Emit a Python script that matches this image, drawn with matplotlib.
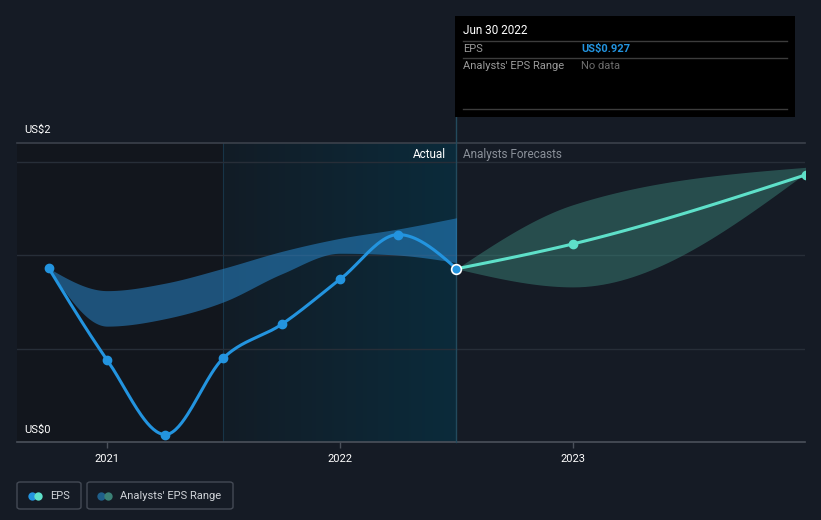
import numpy as np
import matplotlib
matplotlib.use('Agg')
import matplotlib.pyplot as plt
from matplotlib.lines import Line2D
from matplotlib.patches import Rectangle, FancyBboxPatch
from matplotlib.colors import LinearSegmentedColormap

plt.rcParams['font.family'] = ['Roboto', 'DejaVu Sans']

W, H = 821, 520

# actual EPS (quarterly, trailing)
quarters = [2020.75, 2021.0, 2021.25, 2021.5, 2021.75, 2022.0, 2022.25, 2022.5]
eps = [0.93, 0.44, 0.04, 0.45, 0.63, 0.87, 1.11, 0.927]
# past analysts' range
range_hi = [0.93, 0.81, 0.85, 0.93, 1.02, 1.09, 1.14, 1.20]
range_lo = [0.93, 0.62, 0.66, 0.75, 0.90, 1.01, 1.00, 0.96]

# forecasts
fc_dates = [2022.5, 2023.0, 2024.0]
fc_eps = [0.927, 1.06, 1.43]
fc_hi = [0.927, 1.27, 1.47]
fc_lo = [0.927, 0.83, 1.44]

year_ticks = [2021, 2022, 2023]
year_labels = ['2021', '2022', '2023']

BG = '#151b25'
BLUE = '#2394df'
TEAL = '#5ee0c9'


def monotone(x, y, n=40):
    # monotone cubic (like d3 curveMonotoneX) just for drawing smooth lines
    x = np.asarray(x, float)
    y = np.asarray(y, float)
    h = np.diff(x)
    s = np.diff(y) / h
    m = np.zeros_like(y)
    for i in range(1, len(y) - 1):
        if s[i - 1] * s[i] <= 0:
            m[i] = 0
        else:
            p = (s[i - 1] * h[i] + s[i] * h[i - 1]) / (h[i - 1] + h[i])
            m[i] = np.sign(s[i - 1]) * min(abs(s[i - 1]), abs(s[i]), 0.5 * abs(p)) * 2
    m[0] = (3 * s[0] - m[1]) / 2 if len(y) > 2 else s[0]
    m[-1] = (3 * s[-1] - m[-2]) / 2 if len(y) > 2 else s[-1]
    xs, ys = [], []
    for i in range(len(h)):
        t = np.linspace(0, 1, n)
        h00 = 2 * t**3 - 3 * t**2 + 1
        h10 = t**3 - 2 * t**2 + t
        h01 = -2 * t**3 + 3 * t**2
        h11 = t**3 - t**2
        xs.append(x[i] + t * h[i])
        ys.append(h00 * y[i] + h10 * h[i] * m[i] + h01 * y[i + 1] + h11 * h[i] * m[i + 1])
    return np.concatenate(xs), np.concatenate(ys)


def px(x, y):
    return x / W, 1 - y / H


fig = plt.figure(figsize=(W / 100, H / 100), dpi=100, facecolor=BG)

x0 = 2021 - 90 / 233
x1 = 2021 + 698 / 233
ax = fig.add_axes([17 / W, (H - 442) / H, 788 / W, 299 / H])
ax.set_facecolor(BG)
for sp in ax.spines.values():
    sp.set_visible(False)

ax.axvspan(x0, 2021.5, color='#12161d', zorder=0)
grad = LinearSegmentedColormap.from_list('hl', ['#121c26', '#0b2b3b'])
ax.imshow(np.linspace(0, 1, 256).reshape(1, -1), extent=[2021.5, 2022.5, 0, 1.6],
          cmap=grad, aspect='auto', zorder=0)
ax.axvline(2021.5, color='#173447', lw=0.8, zorder=1)
ax.set_xlim(x0, x1)
ax.set_ylim(0, 1.6)

for g in [0.5, 1.0, 1.5]:
    ax.axhline(g, color='#272e38', lw=1, zorder=1)
ax.axhline(1.6, color='#3b414b', lw=1.2, zorder=1, clip_on=False)
ax.axhline(0, color='#4b515b', lw=1.2, zorder=1, clip_on=False)

# vertical marker line at last actual
ax.plot([2022.5, 2022.5], [0, 1.6 + 26 / 187], color='#234a5d', lw=1, clip_on=False, zorder=1)

# bands
bx, bh = monotone(quarters, range_hi)
_, bl = monotone(quarters, range_lo)
ax.fill_between(bx, bl, bh, color='#2a8fd8', alpha=0.5, lw=0, zorder=2)

fx, fh = monotone(fc_dates, fc_hi)
_, fl = monotone(fc_dates, fc_lo)
ax.fill_between(fx, fl, fh, color='#3d8c80', alpha=0.45, lw=0, zorder=2)

# lines
lx, ly = monotone(quarters, eps)
ax.plot(lx, ly, color=BLUE, lw=2.2, zorder=3, solid_capstyle='round')
ax.plot(quarters[:-1], eps[:-1], 'o', color=BLUE, ms=6, zorder=4, clip_on=False)

gx, gy = monotone(fc_dates, fc_eps)
ax.plot(gx, gy, color=TEAL, lw=2.2, zorder=3)
ax.plot(fc_dates[1:], fc_eps[1:], 'o', color=TEAL, ms=6, zorder=4)
ax.plot([quarters[-1]], [eps[-1]], 'o', color=BLUE, mec='white', mew=1.2, ms=7, zorder=5)

ax.set_yticks([])
ax.set_xticks(year_ticks)
ax.set_xticklabels(year_labels)
ax.tick_params(axis='x', colors='#4b515b', length=4, width=1, labelcolor='white',
               labelsize=8, pad=5)

# axis texts
fig.text(*px(24, 130), 'US$2', color='white', fontsize=8, va='center')
fig.text(*px(24, 430), 'US$0', color='white', fontsize=8, va='center')
fig.text(*px(446, 154), 'Actual', color='white', fontsize=8.5, va='center', ha='right')
fig.text(*px(463, 154), 'Analysts Forecasts', color='#8a9099', fontsize=8.5, va='center')

# tooltip
fig.add_artist(Rectangle(px(455, 117), 340 / W, 101 / H, transform=fig.transFigure,
                         facecolor='black', edgecolor='none', zorder=6))
for yy in [41, 58, 109]:
    fig.add_artist(Line2D([463 / W, 787 / W], [1 - yy / H] * 2, color='#3c3c3c', lw=1,
                          transform=fig.transFigure, zorder=7))
fig.text(*px(463, 31), 'Jun 30 2022', color='white', fontsize=8.5, va='center', zorder=8)
fig.text(*px(463, 49), 'EPS', color='#9a9a9a', fontsize=8, va='center', zorder=8)
fig.text(*px(581, 49), 'US$0.927', color=BLUE, fontsize=8, va='center', weight='bold', zorder=8)
fig.text(*px(463, 66), "Analysts' EPS Range", color='#9a9a9a', fontsize=8, va='center', zorder=8)
fig.text(*px(581, 66), 'No data', color='#6d6d6d', fontsize=8, va='center', zorder=8)

# legend
for (bx0, bx1) in [(17, 81), (87, 233)]:
    fig.add_artist(FancyBboxPatch(px(bx0, 509), (bx1 - bx0) / W, 27 / H,
                                  boxstyle='round,pad=0,rounding_size=0.004',
                                  transform=fig.transFigure, facecolor='none',
                                  edgecolor='#444a55', lw=1))
legend_items = [(31.5, 37.5, BLUE, TEAL, 50, 'EPS'),
                (101, 107.5, '#1f5f8a', '#3b8075', 120, "Analysts' EPS Range")]
for c1x, c2x, c1, c2, tx, label in legend_items:
    fig.add_artist(Line2D([c1x / W], [1 - 496 / H], marker='o', ms=6, color=c1, mew=0,
                          transform=fig.transFigure))
    fig.add_artist(Line2D([c2x / W], [1 - 496 / H], marker='o', ms=6, color=c2, mew=0,
                          transform=fig.transFigure))
    fig.text(*px(tx, 496), label, color='#d0d3d8', fontsize=8, va='center')

fig.savefig('out.png', dpi=100, facecolor=BG)
